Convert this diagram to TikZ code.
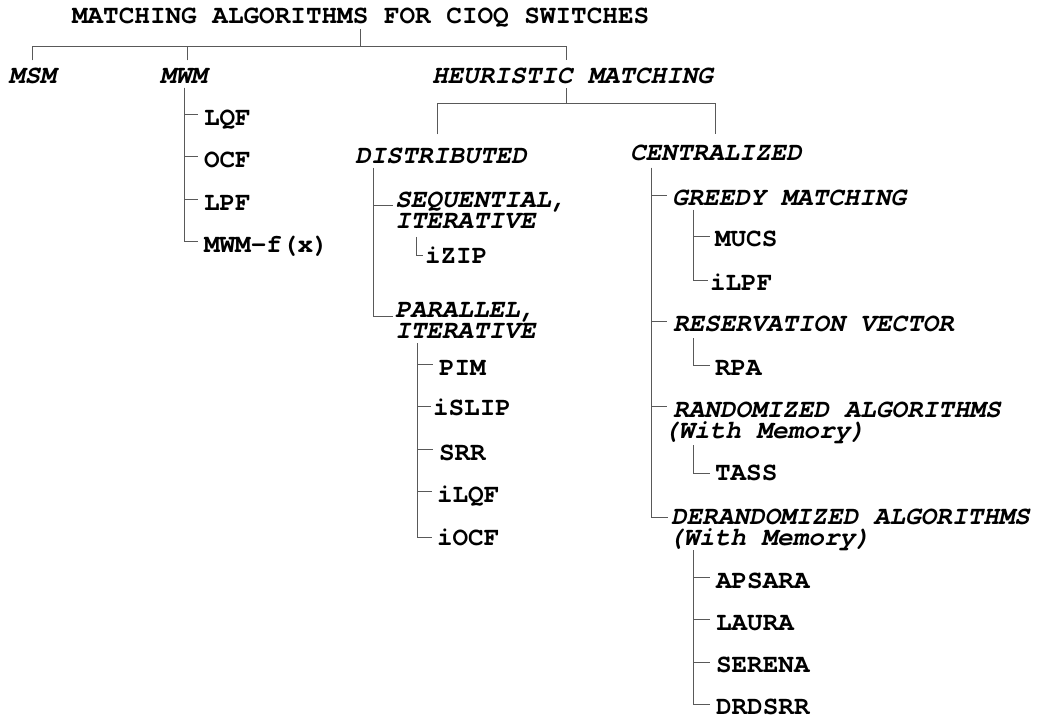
\documentclass[tikz,border=0pt]{standalone}
\usepackage{fontspec}
\setmainfont{TeX Gyre Cursor}
\begin{document}
\begin{tikzpicture}[x=1pt,y=-1pt,
  lbl/.style={inner sep=0pt, outer sep=0pt, anchor=west, text height=15pt, text depth=0pt,
    font=\bfseries\fontsize{26}{21}\selectfont},
  cat/.style={lbl, font=\bfseries\itshape\fontsize{26}{21}\selectfont},
  cat2/.style={inner sep=0pt, outer sep=0pt, anchor=north west, align=left,
    font=\bfseries\itshape\fontsize{26}{21}\selectfont},
  conn/.style={draw=black!65, line width=0.9pt},
  tick/.style={conn, shorten >=#1},
  tick/.default=6pt]
\useasboundingbox (0,0) rectangle (1043,719);

% ---- texts ----
\node[lbl] (title) at (72,16) {MATCHING ALGORITHMS FOR CIOQ SWITCHES};
\node[cat] (msm)  at (9,76)   {MSM};
\node[cat] (mwm)  at (160,76) {MWM};
\node[cat] (heur) at (432,76) {HEURISTIC MATCHING};

\node[lbl] (lqf)  at (204,118) {LQF};
\node[lbl] (ocf)  at (204,160) {OCF};
\node[lbl] (lpf)  at (204,203) {LPF};
\node[lbl] (mwmf) at (204,245) {MWM-f(x)};

\node[cat] (dist) at (355,156) {DISTRIBUTED};
\node[cat] (cent) at (630,153) {CENTRALIZED};

\node[cat2] (seq) at (395,192) {SEQUENTIAL,\\ITERATIVE};
\node[lbl] (izip) at (425,256) {iZIP};
\node[cat2] (par) at (395,302) {PARALLEL,\\ITERATIVE};
\node[lbl] (pim)   at (439,368) {PIM};
\node[lbl] (islip) at (433,408) {iSLIP};
\node[lbl] (srr)   at (439,453) {SRR};
\node[lbl] (ilqf)  at (437,495) {iLQF};
\node[lbl] (iocf)  at (437,538) {iOCF};

\node[cat] (greedy) at (672,198) {GREEDY MATCHING};
\node[lbl] (mucs) at (715,239) {MUCS};
\node[lbl] (ilpf) at (710,283) {iLPF};
\node[cat] (resv) at (673,324) {RESERVATION VECTOR};
\node[lbl] (rpa)  at (715,368) {RPA};
\node[cat2] (rand) at (673,402) {RANDOMIZED ALGORITHMS\\\hspace*{-10pt}(With Memory)};
\node[lbl] (tass) at (715,473) {TASS};
\node[cat2] (derand) at (671,509) {DERANDOMIZED ALGORITHMS\\\hspace*{-3pt}(With Memory)};
\node[lbl] (apsara) at (716,581) {APSARA};
\node[lbl] (laura)  at (716,623) {LAURA};
\node[lbl] (serena) at (716,665) {SERENA};
\node[lbl] (drdsrr) at (716,707) {DRDSRR};

% ---- junction coordinates ----
\coordinate (bar)   at (0,46);
\coordinate (hbar)  at (0,103);
\coordinate (mwmT)  at (184,88);
\coordinate (distT) at (373,168);
\coordinate (seqT)  at (416,237);
\coordinate (parT)  at (417,343);
\coordinate (centT) at (651,168);
\coordinate (grT)   at (693,210);
\coordinate (resT)  at (693,338);
\coordinate (ranT)  at (693,445);
\coordinate (derT)  at (693,550);

% ---- top bracket ----
\draw[conn] ([yshift=-6pt]title.south) -- (title.south |- bar);
\draw[conn] ([yshift=8pt]msm.north) |- ([xshift=-6pt]heur.north |- bar)
  -- ([xshift=-6pt,yshift=8pt]heur.north);
\draw[conn] ([xshift=4pt,yshift=8pt]mwm.north) -- ([xshift=4pt]mwm.north |- bar);

% ---- heuristic bracket ----
\draw[conn] ([xshift=-6pt,yshift=-5pt]heur.south) -- ([xshift=-6pt]heur.south |- hbar);
\draw[conn] ([xshift=-3pt,yshift=14pt]dist.north) |- (hbar -| cent.north)
  -- ([yshift=11pt]cent.north);

% ---- MWM ----
\draw[tick] (mwmT) |- ([yshift=3.5pt]lqf.west);
\draw[tick] (mwmT) |- ([yshift=3.5pt]ocf.west);
\draw[tick] (mwmT) |- ([yshift=3.5pt]lpf.west);
\draw[tick] (mwmT) |- ([yshift=3.5pt]mwmf.west);

% ---- distributed ----
\draw[tick=2pt] (distT) |- ([yshift=-13pt]seq.north west);
\draw[tick=2pt] (distT) |- ([yshift=-14pt]par.north west);
\draw[tick=2pt] (seqT) |- ([yshift=1pt]izip.west);
\draw[tick] (parT) |- ([yshift=3.5pt]pim.west);
\draw[tick=2pt] (parT) |- ([yshift=2pt]islip.west);
\draw[tick] (parT) |- ([yshift=3.5pt]srr.west);
\draw[tick=5pt] (parT) |- ([yshift=3.5pt]ilqf.west);
\draw[tick=5pt] (parT) |- ([yshift=1pt]iocf.west);

% ---- centralized ----
\draw[tick=5pt] (centT) |- ([yshift=3pt]greedy.west);
\draw[tick] (centT) |- ([yshift=3pt]resv.west);
\draw[tick] (centT) |- ([yshift=-4pt]rand.north west);
\draw[tick=3pt] (centT) |- ([yshift=-8pt]derand.north west);

\draw[tick=5pt] (grT) |- ([yshift=3pt]mucs.west);
\draw[tick=2pt] (grT) |- ([yshift=3pt]ilpf.west);
\draw[tick=5pt] (resT) |- ([yshift=3pt]rpa.west);
\draw[tick=5pt] (ranT) |- ([yshift=0pt]tass.west);
\draw[tick] (derT) |- ([yshift=4pt]apsara.west);
\draw[tick] (derT) |- ([yshift=4pt]laura.west);
\draw[tick] (derT) |- ([yshift=3pt]serena.west);
\draw[tick] (derT) |- ([yshift=3pt]drdsrr.west);
\end{tikzpicture}
\end{document}
